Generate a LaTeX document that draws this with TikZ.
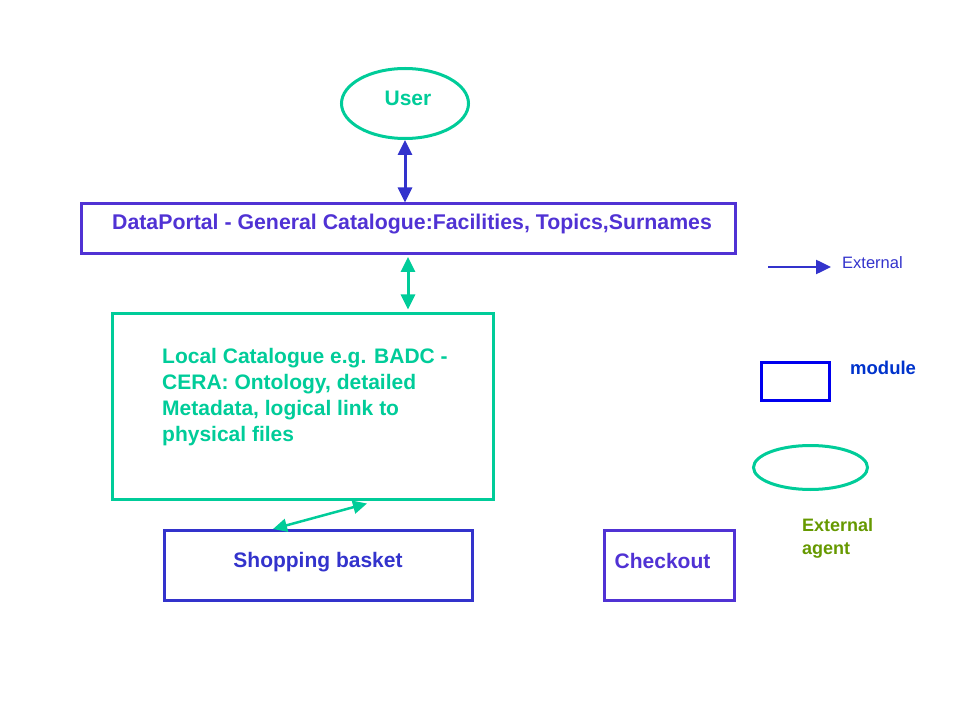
\documentclass[tikz,border=0pt]{standalone}
\usepackage{fontspec}
\setmainfont{Liberation Sans}
\usetikzlibrary{arrows.meta,shapes.geometric}
\definecolor{grn}{HTML}{00CC99}
\definecolor{portalc}{HTML}{5032D4}
\definecolor{arrowc}{HTML}{3333CC}
\definecolor{modc}{HTML}{0000EE}
\definecolor{modtext}{HTML}{0033CC}
\definecolor{olive}{HTML}{669900}
\tikzset{
  box/.style={draw, rectangle, line width=3pt, inner sep=0pt},
  agent/.style={draw=grn, ellipse, line width=3pt, inner sep=0pt},
  txt/.style={inner sep=0pt, font=\fontsize{21}{26}\selectfont\bfseries},
  dbl/.style={line width=3pt, {Triangle[length=15pt,width=14pt]}-{Triangle[length=15pt,width=14pt]}},
}
\begin{document}
\begin{tikzpicture}[x=1pt,y=-1pt]
\useasboundingbox (0,0) rectangle (959,719);
% main nodes
\node[agent, minimum width=127pt, minimum height=70pt] (user) at (405,103.5) {};
\node[txt, text=grn] (usert) at (408,98) {User};
\node[box, draw=portalc, minimum width=654pt, minimum height=50pt] (portal) at (408,229) {};
\node[txt, text=portalc, font=\fontsize{21.3}{26}\selectfont\bfseries] (portalt) at (412,224) {DataPortal - General Catalogue:Facilities, Topics,Surnames};
\node[box, draw=grn, minimum width=381pt, minimum height=186pt] (local) at (303,406.5) {};
\node[txt, text=grn, anchor=west, align=left] (localt) at (162,397) {Local Catalogue e.g. BADC -\\CERA: Ontology, detailed\\Metadata, logical link to\\physical files};
\node[box, draw=arrowc, minimum width=308pt, minimum height=70pt] (shop) at (318.5,565.5) {};
\node[txt, text=arrowc] (shopt) at (318,562) {Shopping basket};
\node[box, draw=portalc, minimum width=130pt, minimum height=70pt] (check) at (669.5,565.5) {};
\node[txt, text=portalc] (checkt) at (662.5,560.5) {Checkout};
% connectors
\draw[dbl, arrowc] (user.south) -- (user.south |- portal.north);
\draw[dbl, grn, shorten <=1.5pt, shorten >=2.5pt] (portal.south) -- (portal.south |- local.north);
\coordinate (lc) at (367,503.5);
\coordinate (sc) at (273,529);
\draw[grn, line width=2.5pt, {Triangle[length=14pt,width=13pt]}-{Triangle[length=14pt,width=13pt]}] (lc) -- (sc);
% legend
\coordinate (la) at (768,267);
\coordinate (lb) at (831,267);
\draw[arrowc, line width=2.5pt, -{Triangle[length=15pt,width=14pt]}] (la) -- (lb);
\node[inner sep=0pt, anchor=west, text=arrowc, font=\fontsize{16.5}{20}\selectfont] (extt) at (842,262.5) {External};
\node[box, draw=modc, minimum width=68pt, minimum height=38pt] (mod) at (795.5,381.5) {};
\node[txt, text=modtext, anchor=west, font=\fontsize{18.5}{22}\selectfont\bfseries] (modt) at (850,367.5) {module};
\node[txt, text=olive, anchor=west, align=left, font=\fontsize{18}{23}\selectfont\bfseries] (agt) at (802,538.5) {External\\agent};
\node[agent, minimum width=114pt, minimum height=44pt] (lagent) at (810.5,467.5) {};
\end{tikzpicture}
\end{document}
